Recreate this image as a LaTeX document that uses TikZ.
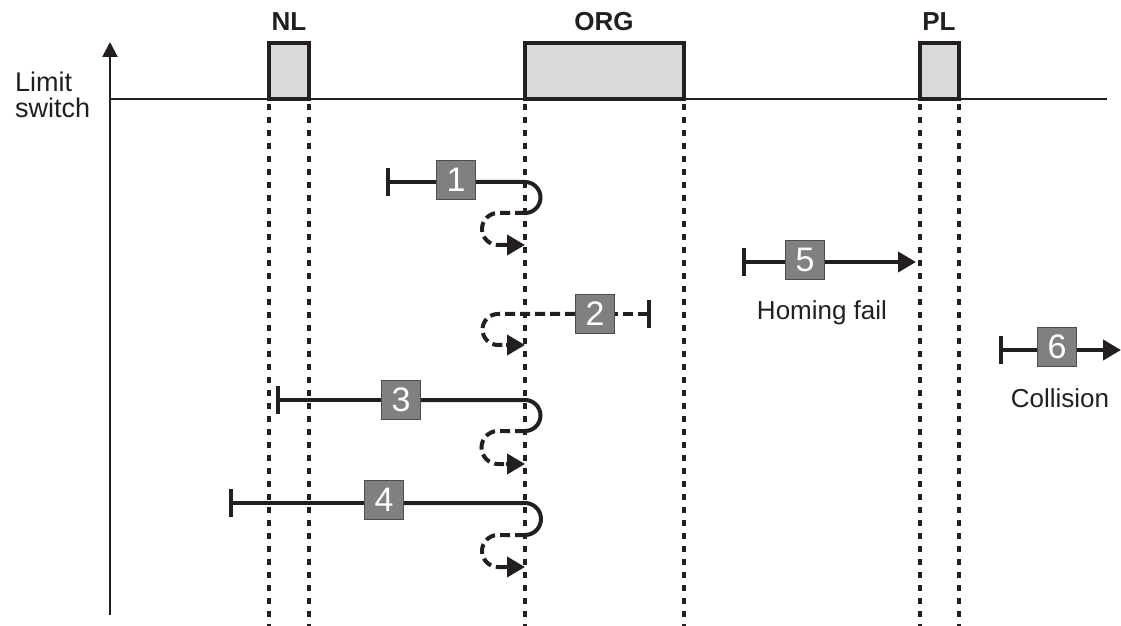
\documentclass[tikz,border=0pt]{standalone}
\usepackage{fontspec}
\setmainfont{Liberation Sans}
\usetikzlibrary{arrows.meta}
\definecolor{ink}{HTML}{231F20}
\definecolor{pulse}{HTML}{D9D9D9}
\definecolor{boxgray}{HTML}{808080}

\begin{document}
\begin{tikzpicture}[x=0.5pt,y=-0.5pt,color=ink,
  trk/.style={line width=2pt},
  back/.style={line width=2pt,dash pattern=on 5pt off 2.5pt},
  guide/.style={line width=1.6pt,dash pattern=on 3pt off 3.5pt},
  sw/.style={draw=ink,fill=pulse,line width=1.6pt},
  tag/.style={draw=boxgray!60!black,fill=boxgray,text=white,line width=0.4pt,
    minimum size=19.5pt,inner sep=0pt,font=\fontsize{17}{17}\selectfont},
  lbl/.style={font=\fontsize{13}{13}\selectfont},
  ttl/.style={font=\fontsize{13}{13}\selectfont\bfseries},
  bar/.style={{Bar[width=14pt,line width=2pt]}-},
  tip/.style={-{Triangle[length=9pt,width=10pt]}}]
  \useasboundingbox (0,0) rectangle (1121,626);

  % axes and limit switches
  \draw[line width=1.1pt,-{Triangle[length=7.5pt,width=7.5pt]}] (110,615) -- (110,42);
  \draw[line width=1.2pt] (110,99) -- (1107,99);
  \draw[sw] (269,99) rectangle (309,43);
  \draw[sw] (525,99) rectangle (684,43);
  \draw[sw] (920,99) rectangle (959,43);
  \node[ttl] (nl) at (289,22) {NL};
  \node[ttl] (org) at (604,22) {ORG};
  \node[ttl] (pl) at (939,22) {PL};
  \node[lbl,align=left,anchor=west,font=\fontsize{13.5}{13}\selectfont] (lsw) at (8,95) {Limit\\switch};
  \foreach \gx in {269,309,525,684,920,959}
    \draw[guide] (\gx,104) -- (\gx,626);

  % 1
  \coordinate (s1) at (386,182);
  \coordinate (o1) at (525,182);
  \coordinate (e1) at (525,245);
  \node[tag] (t1) at (456,180) {1};
  \draw[trk,bar] (s1) -- (t1.west |- s1);
  \draw[trk] (t1.east |- s1) -- (o1) arc[start angle=90,end angle=-90,radius=7.75pt];
  \draw[back] (525,213) -- (498,213) arc[start angle=90,end angle=270,radius=8pt] -- (508,245);
  \draw[trk,tip] (506,245) -- (e1);

  % 2
  \coordinate (s2) at (651,314);
  \coordinate (e2) at (525,345);
  \node[tag] (t2) at (595,314) {2};
  \draw[back,bar] (s2) -- (t2.east);
  \draw[back] (t2.west) -- (498,314) arc[start angle=90,end angle=270,radius=7.75pt] -- (508,345);
  \draw[trk,tip] (506,345) -- (e2);

  % 3
  \coordinate (s3) at (276,400);
  \coordinate (o3) at (525,400);
  \coordinate (e3) at (525,464);
  \node[tag] (t3) at (401,400) {3};
  \draw[trk,bar] (s3) -- (t3);
  \draw[trk] (t3) -- (o3) arc[start angle=90,end angle=-90,radius=7.75pt];
  \draw[back] (525,431) -- (498,431) arc[start angle=90,end angle=270,radius=8.25pt] -- (508,464);
  \draw[trk,tip] (506,464) -- (e3);

  % 4
  \coordinate (s4) at (229,503);
  \coordinate (o4) at (525,503);
  \coordinate (e4) at (525,567);
  \node[tag] (t4) at (384,500) {4};
  \draw[trk,bar] (s4) -- (t4.west |- s4);
  \draw[trk] (t4.east |- s4) -- (o4) arc[start angle=90,end angle=-90,radius=8pt];
  \draw[back] (525,535) -- (498,535) arc[start angle=90,end angle=270,radius=8pt] -- (508,567);
  \draw[trk,tip] (506,567) -- (e4);

  % 5
  \coordinate (s5) at (742,262);
  \coordinate (e5) at (916,262);
  \node[tag] (t5) at (805,260) {5};
  \draw[trk,bar] (s5) -- (t5.west |- s5);
  \draw[trk,tip] (t5.east |- s5) -- (e5);
  \node[lbl] (hf) at (822,313) {Homing fail};

  % 6
  \coordinate (s6) at (999,350);
  \coordinate (e6) at (1121,350);
  \node[tag] (t6) at (1057,347) {6};
  \draw[trk,bar] (s6) -- (t6.west |- s6);
  \draw[trk,tip] (t6.east |- s6) -- (e6);
  \node[lbl] (col) at (1060,398) {Collision};
\end{tikzpicture}
\end{document}
